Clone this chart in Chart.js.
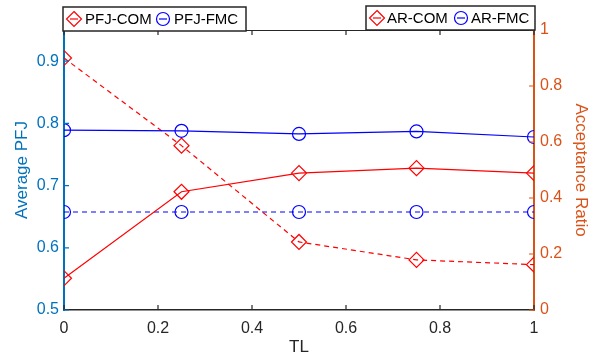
<!DOCTYPE html>
<html>
<head>
<meta charset="utf-8">
<script src="https://cdn.jsdelivr.net/npm/chart.js@4.4.1/dist/chart.umd.min.js"></script>
<style>
  body { margin: 0; background: #fff; }
  #wrap { width: 601px; height: 354px; }
</style>
</head>
<body>
<div id="wrap"><canvas id="chart"></canvas></div>
<script>
// data
const tl = [0, 0.25, 0.5, 0.75, 1]
const pfjCom = [0.551, 0.690, 0.720, 0.728, 0.720]
const pfjFmc = [0.789, 0.788, 0.783, 0.787, 0.778]
const arCom = [0.90, 0.587, 0.243, 0.179, 0.162]
const arFmc = [0.35, 0.35, 0.35, 0.35, 0.35]

const xTicks = [0, 0.2, 0.4, 0.6, 0.8, 1]
const leftTicks = [0.5, 0.6, 0.7, 0.8, 0.9]
const rightTicks = [0, 0.2, 0.4, 0.6, 0.8, 1]

const RED = 'rgb(255, 0, 0)'
const BLUE = 'rgb(0, 0, 255)'
const LEFT_C = 'rgb(0, 114, 189)'
const RIGHT_C = 'rgb(217, 83, 25)'
const AXIS_C = 'rgb(38, 38, 38)'
const FONT = 'Liberation Sans, Arial, sans-serif'

const pts = (ys) => ys.map((y, i) => ({ x: tl[i], y: y }))
const fmt = (v) => String(Number(v.toFixed(1)))

function series(label, ys, color, style, axis, dashed) {
    return {
        label: label,
        data: pts(ys),
        yAxisID: axis,
        borderColor: color,
        backgroundColor: 'rgba(0,0,0,0)',
        borderWidth: 1.2,
        borderDash: dashed ? [5, 4] : [],
        pointStyle: style,
        pointRadius: style === 'rectRot' ? 7.5 : 6.5,
        pointBorderWidth: 1.2,
        pointBorderColor: color,
        pointBackgroundColor: 'rgba(0,0,0,0)',
        tension: 0
    }
}

// matlab-ish box, inward ticks and the two legend boxes
const matlabBox = {
    id: 'matlabBox',
    afterDraw(chart) {
        const ctx = chart.ctx
        const a = chart.chartArea
        const sx = chart.scales.x, sl = chart.scales.y, sr = chart.scales.y1
        const tk = 5
        ctx.save()
        ctx.lineWidth = 1.2
        ctx.strokeStyle = AXIS_C
        ctx.beginPath()
        ctx.moveTo(a.left, a.top + 0.5)
        ctx.lineTo(a.right, a.top + 0.5)
        xTicks.forEach(v => {
            const px = sx.getPixelForValue(v)
            ctx.moveTo(px, a.bottom)
            ctx.lineTo(px, a.bottom - tk)
            ctx.moveTo(px, a.top)
            ctx.lineTo(px, a.top + tk)
        })
        ctx.stroke()

        ctx.strokeStyle = LEFT_C
        ctx.beginPath()
        leftTicks.forEach(v => {
            const py = sl.getPixelForValue(v)
            ctx.moveTo(a.left, py)
            ctx.lineTo(a.left + tk, py)
        })
        ctx.stroke()

        ctx.strokeStyle = RIGHT_C
        ctx.beginPath()
        rightTicks.forEach(v => {
            const py = sr.getPixelForValue(v)
            ctx.moveTo(a.right, py)
            ctx.lineTo(a.right - tk, py)
        })
        ctx.stroke()

        drawLegend(ctx, 63, 7, 183, 24, [[0, 11, 22], [1, 100, 111]], chart)
        drawLegend(ctx, 366, 6, 169, 24, [[2, 11, 21], [3, 95, 105]], chart)
        ctx.restore()
    }
}

function drawMarker(ctx, ds, cx, cy) {
    ctx.strokeStyle = ds.borderColor
    ctx.lineWidth = 1.2
    ctx.beginPath()
    ctx.moveTo(cx - 4, cy)
    ctx.lineTo(cx + 4, cy)
    ctx.stroke()
    ctx.beginPath()
    if (ds.pointStyle === 'rectRot') {
        const r = 7.5
        ctx.moveTo(cx, cy - r)
        ctx.lineTo(cx + r, cy)
        ctx.lineTo(cx, cy + r)
        ctx.lineTo(cx - r, cy)
        ctx.closePath()
    } else {
        ctx.arc(cx, cy, 6.5, 0, Math.PI * 2)
    }
    ctx.stroke()
}

function drawLegend(ctx, x, y, w, h, items, chart) {
    ctx.fillStyle = '#fff'
    ctx.fillRect(x, y, w, h)
    ctx.strokeStyle = AXIS_C
    ctx.lineWidth = 1.5
    ctx.strokeRect(x, y, w, h)
    ctx.font = '15px ' + FONT
    ctx.textBaseline = 'middle'
    ctx.textAlign = 'left'
    items.forEach(([i, mx, tx]) => {
        const ds = chart.data.datasets[i]
        drawMarker(ctx, ds, x + mx, y + h / 2)
        ctx.fillStyle = '#000'
        ctx.fillText(ds.label, x + tx, y + h / 2 + 1)
    })
}

const el = document.getElementById('chart')
new Chart(el, {
    type: 'line',
    data: {
        datasets: [
            series('PFJ-COM', pfjCom, RED, 'rectRot', 'y', false),
            series('PFJ-FMC', pfjFmc, BLUE, 'circle', 'y', false),
            series('AR-COM', arCom, RED, 'rectRot', 'y1', true),
            series('AR-FMC', arFmc, BLUE, 'circle', 'y1', true)
        ]
    },
    options: {
        responsive: true,
        maintainAspectRatio: false,
        animation: false,
        layout: { padding: { top: 30, left: 0, right: 0, bottom: 0 } },
        plugins: { legend: { display: false }, tooltip: { enabled: false } },
        scales: {
            x: {
                type: 'linear',
                min: 0,
                max: 1,
                afterBuildTicks: (s) => { s.ticks = xTicks.map(v => ({ value: v })) },
                afterFit: (s) => { s.height = 44 },
                ticks: { color: AXIS_C, font: { family: FONT, size: 16 }, padding: 9, callback: fmt },
                grid: { drawOnChartArea: false, drawTicks: false },
                border: { display: true, color: AXIS_C, width: 1.5 },
                title: { display: true, text: 'TL', color: AXIS_C, font: { family: FONT, size: 17 }, padding: { top: 0, bottom: -4 } }
            },
            y: {
                position: 'left',
                min: 0.5,
                max: 0.95,
                afterBuildTicks: (s) => { s.ticks = leftTicks.map(v => ({ value: v })) },
                afterFit: (s) => { s.width = 64 },
                ticks: { color: LEFT_C, font: { family: FONT, size: 16 }, padding: 5, callback: fmt },
                grid: { drawOnChartArea: false, drawTicks: false },
                border: { display: true, color: LEFT_C, width: 2 },
                title: { display: true, text: 'Average PFJ', color: LEFT_C, font: { family: FONT, size: 17 }, padding: { top: 12, bottom: 0 } }
            },
            y1: {
                position: 'right',
                min: 0,
                max: 1,
                afterBuildTicks: (s) => { s.ticks = rightTicks.map(v => ({ value: v })) },
                afterFit: (s) => { s.width = 67 },
                ticks: { color: RIGHT_C, font: { family: FONT, size: 16 }, padding: 6, callback: fmt },
                grid: { drawOnChartArea: false, drawTicks: false },
                border: { display: true, color: RIGHT_C, width: 2 },
                title: { display: true, text: 'Acceptance Ratio', color: RIGHT_C, font: { family: FONT, size: 17 }, padding: { top: 10, bottom: 0 } }
            }
        }
    },
    plugins: [matlabBox]
})
</script>
</body>
</html>
